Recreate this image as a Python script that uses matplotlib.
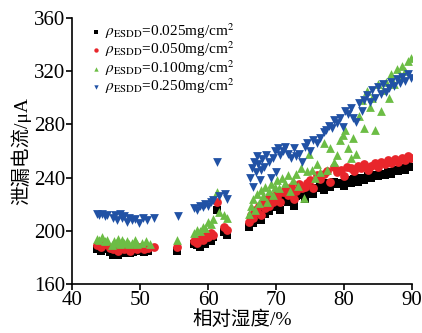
import matplotlib
matplotlib.use("Agg")
import matplotlib.pyplot as plt

# relative humidity (%) and leakage current (uA) for each ESDD level
rh_025 = [43.6, 44.2, 44.8, 45.5, 46.0, 46.4, 46.8, 47.2, 47.6, 48.0, 48.5, 49.0, 49.5, 50.0, 50.6, 51.2,
          55.5,
          58.0, 58.4, 58.8, 59.2, 59.6, 60.0, 60.4, 60.8, 61.3, 62.4, 62.8,
          66.0, 66.3, 66.6, 66.9, 67.2, 67.5, 67.8, 68.1, 68.4, 68.7, 69.0, 69.3, 69.6, 69.9,
          70.2, 70.6, 71.0, 71.4, 71.8, 72.2, 72.6, 73.0, 73.4, 73.8, 74.2, 74.6, 75.0, 75.5,
          76.0, 76.5, 77.0, 77.5, 78.0, 78.5, 79.0, 79.5, 80.0, 80.5, 81.0, 81.5, 82.0,
          82.5, 83.0, 83.5, 84.0, 84.5, 85.0, 85.5, 86.0, 86.5, 87.0, 87.5, 88.0, 88.5, 89.0, 89.5, 89.9]
cur_025 = [186, 185, 186, 184, 182, 183, 182, 184, 183, 184, 183, 184, 185, 186, 184, 185,
           185,
           190, 189, 188, 191, 190, 193, 192, 195, 216, 199, 197,
           203, 208, 206, 211, 210, 214, 208, 217, 213, 219, 215, 221, 218, 223,
           220, 216, 223, 226, 222, 228, 219, 226, 230, 227, 224, 229, 232, 228,
           232, 234, 231, 236, 233, 237, 235, 236, 234, 238, 236, 239, 237,
           240, 238, 241, 240, 242, 241, 243, 242, 244, 243, 246, 245, 247, 246, 249, 248]

rh_050 = [43.6, 44.2, 44.8, 45.5, 46.0, 46.4, 46.8, 47.2, 47.6, 48.0, 48.5, 49.0, 49.5, 50.0, 50.6, 51.2, 52.0,
          55.5,
          58.0, 58.4, 58.8, 59.2, 59.6, 60.0, 60.4, 60.8, 61.3, 62.4, 62.8,
          66.0, 66.3, 66.6, 66.9, 67.2, 67.5, 67.8, 68.1, 68.4, 68.7, 69.0, 69.3, 69.6, 69.9,
          70.2, 70.6, 71.0, 71.4, 71.8, 72.2, 72.6, 73.0, 73.4, 73.8, 74.2, 74.6, 75.0, 75.5,
          76.0, 76.5, 77.0, 77.5, 78.0, 78.5, 79.0, 79.5, 80.0, 80.5, 81.0, 81.5, 82.0,
          82.5, 83.0, 83.5, 84.0, 84.5, 85.0, 85.5, 86.0, 86.5, 87.0, 87.5, 88.0, 88.5, 89.0, 89.5, 89.9]
cur_050 = [189, 188, 190, 187, 186, 187, 185, 188, 186, 187, 185, 187, 186, 188, 186, 187, 188,
           188,
           192, 191, 194, 193, 196, 195, 198, 197, 222, 203, 201,
           207, 212, 210, 216, 214, 219, 212, 221, 217, 224, 219, 225, 222, 227,
           226, 222, 229, 231, 227, 233, 224, 230, 235, 232, 233, 236, 238, 232,
           242, 239, 243, 245, 237, 248, 244, 246, 241, 248, 247, 245, 249,
           247, 250, 246, 249, 251, 248, 252, 250, 253, 251, 254, 252, 255, 253, 256, 255]

rh_100 = [43.6, 44.0, 44.4, 44.8, 45.2, 45.9, 46.2, 46.5, 46.8, 47.1, 47.4, 47.7, 48.0, 48.4, 48.8, 49.2, 49.6, 50.3, 50.8, 51.5,
          55.5,
          58.0, 58.4, 58.8, 59.2, 59.6, 60.0, 60.4, 60.8, 61.3, 61.6, 62.4, 62.8,
          66.0, 66.3, 66.6, 66.9, 67.2, 67.5, 67.8, 68.1, 68.4, 68.7, 69.0, 69.3, 69.6, 69.9,
          70.2, 70.5, 70.9, 71.3, 71.7, 72.1, 72.5, 72.9, 73.3, 73.7, 74.1, 74.5, 74.9, 75.3, 75.7,
          76.0, 76.5, 77.0, 77.5, 78.0, 78.5, 79.0, 79.4, 79.8, 80.2, 80.6, 81.0, 81.4, 81.8,
          82.2, 82.6, 83.0, 83.4, 83.8, 84.2, 84.6, 85.0, 85.4, 85.8, 86.2, 86.6, 87.0, 87.4, 87.8, 88.2, 88.6, 89.0, 89.4, 89.8]
cur_100 = [194, 193, 195, 192, 193, 189, 192, 191, 194, 190, 193, 191, 192, 190, 191, 193, 190, 191, 192, 190,
           193,
           198, 201, 200, 203, 202, 207, 205, 209, 229, 214, 212, 210,
           213, 219, 224, 216, 228, 221, 231, 226, 233, 222, 230, 235, 227, 233,
           238, 232, 240, 236, 242, 230, 238, 243, 234, 247, 225, 245, 258, 246, 240,
           250, 244, 266, 246, 262, 252, 257, 268, 272, 276, 262, 255, 270, 258,
           286, 298, 277, 305, 293, 300, 276, 310, 290, 306, 312, 300, 318, 310, 322, 316, 324, 320, 328, 330]

rh_250 = [43.6, 44.0, 44.4, 44.8, 45.2, 46.0, 46.3, 46.6, 47.0, 47.3, 47.6, 48.0, 48.4, 48.8, 49.3, 49.8, 50.4, 51.0, 52.0,
          55.6,
          58.0, 58.4, 58.8, 59.2, 59.6, 60.0, 60.4, 60.8, 61.3, 61.6, 62.5, 62.8,
          66.2, 66.4, 66.6, 66.8, 67.0, 67.2, 67.4, 67.6, 67.8, 68.0, 68.3, 68.6, 68.9, 69.2, 69.5, 69.8, 70.0,
          70.3, 70.6, 71.0, 71.4, 71.8, 72.2, 72.6, 73.0, 73.4, 73.8, 74.2, 74.6, 75.0, 75.5, 76.0,
          76.5, 77.0, 77.4, 77.8, 78.2, 78.6, 79.0, 79.4, 79.8, 80.2, 80.6, 81.0, 81.4, 81.8,
          82.2, 82.6, 83.0, 83.4, 83.8, 84.2, 84.6, 85.0, 85.4, 85.8, 86.2, 86.6, 87.0, 87.4, 87.8, 88.2, 88.6, 89.0, 89.4, 89.8]
cur_250 = [213, 212, 213, 211, 212, 210, 212, 208, 213, 210, 211, 207, 210, 208, 209, 206, 210, 208, 210,
           211,
           217, 216, 219, 218, 220, 219, 222, 223, 252, 226, 228, 224,
           240, 247, 233, 252, 244, 256, 250, 238, 246, 254, 248, 257, 252, 240, 255, 260, 244,
           262, 257, 260, 263, 258, 255, 262, 256, 258, 252, 263, 266, 260, 268, 266,
           270, 274, 276, 279, 277, 283, 281, 285, 278, 290, 288, 292, 285, 282,
           296, 290, 298, 302, 297, 306, 300, 308, 303, 310, 304, 307, 312, 309, 314, 311, 316, 313, 318, 315]

labels = ["0.025", "0.050", "0.100", "0.250"]
colors = ["#000000", "#e8262b", "#6cbd45", "#2152a5"]
markers = ["s", "o", "^", "v"]

plt.rcParams["font.family"] = ["Liberation Serif", "Noto Sans CJK SC"]
plt.rcParams["mathtext.fontset"] = "stix"

fig = plt.figure(figsize=(4.22, 3.33), dpi=100)
ax = fig.add_axes([0.171, 0.147, 0.805, 0.799])

series = [(rh_025, cur_025), (rh_050, cur_050), (rh_100, cur_100), (rh_250, cur_250)]
for (x, y), lab, c, m in zip(series, labels, colors, markers):
    ax.scatter(x, y, s=40, marker=m, color=c, linewidths=0,
               label=r"$\rho_{\rm ESDD}$=" + lab + r"mg/cm$^2$")

ax.set_xlim(40, 90)
ax.set_ylim(160, 360)
ax.set_xticks([40, 50, 60, 70, 80, 90])
ax.set_yticks([160, 200, 240, 280, 320, 360])
for s in ["top", "right"]:
    ax.spines[s].set_visible(False)
for s in ["left", "bottom"]:
    ax.spines[s].set_linewidth(1.2)
ax.tick_params(direction="out", length=4, width=1.2, labelsize=15, pad=1)

ax.set_xlabel("相对湿度/%", fontsize=14, labelpad=0)
ax.set_ylabel("泄漏电流/μA", fontsize=14, labelpad=2)

ax.legend(loc="upper left", bbox_to_anchor=(0.02, 1.02), frameon=False, fontsize=11,
          handletextpad=0.1, handlelength=1.0, labelspacing=-0.1, markerscale=0.5,
          borderaxespad=0.2)

fig.savefig("out.png", dpi=100)
